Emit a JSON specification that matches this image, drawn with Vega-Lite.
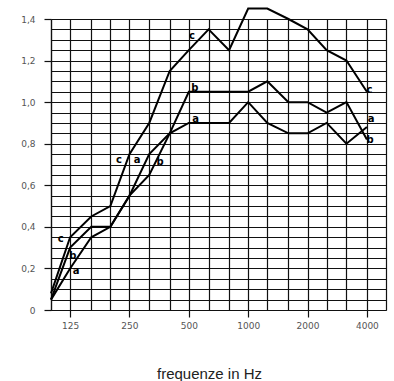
{
  "$schema": "https://vega.github.io/schema/vega-lite/v6.json",
  "autosize": {"type": "none"},
  "padding": {"left": 51, "top": 19, "right": 8, "bottom": 71},
  "width": 335,
  "height": 291,
  "background": "white",
  "config": {"view": {"stroke": null}},
  "datasets": {
    "curves": [
      {"freq": 100, "value": 0.05, "series": "a"},
      {"freq": 125, "value": 0.2, "series": "a"},
      {"freq": 160, "value": 0.35, "series": "a"},
      {"freq": 200, "value": 0.4, "series": "a"},
      {"freq": 250, "value": 0.55, "series": "a"},
      {"freq": 315, "value": 0.75, "series": "a"},
      {"freq": 400, "value": 0.85, "series": "a"},
      {"freq": 500, "value": 0.9, "series": "a"},
      {"freq": 630, "value": 0.9, "series": "a"},
      {"freq": 800, "value": 0.9, "series": "a"},
      {"freq": 1000, "value": 1.0, "series": "a"},
      {"freq": 1250, "value": 0.9, "series": "a"},
      {"freq": 1600, "value": 0.85, "series": "a"},
      {"freq": 2000, "value": 0.85, "series": "a"},
      {"freq": 2500, "value": 0.9, "series": "a"},
      {"freq": 3150, "value": 0.8, "series": "a"},
      {"freq": 4000, "value": 0.88, "series": "a"},
      {"freq": 100, "value": 0.05, "series": "b"},
      {"freq": 125, "value": 0.3, "series": "b"},
      {"freq": 160, "value": 0.4, "series": "b"},
      {"freq": 200, "value": 0.4, "series": "b"},
      {"freq": 250, "value": 0.55, "series": "b"},
      {"freq": 315, "value": 0.65, "series": "b"},
      {"freq": 400, "value": 0.85, "series": "b"},
      {"freq": 500, "value": 1.05, "series": "b"},
      {"freq": 630, "value": 1.05, "series": "b"},
      {"freq": 800, "value": 1.05, "series": "b"},
      {"freq": 1000, "value": 1.05, "series": "b"},
      {"freq": 1250, "value": 1.1, "series": "b"},
      {"freq": 1600, "value": 1.0, "series": "b"},
      {"freq": 2000, "value": 1.0, "series": "b"},
      {"freq": 2500, "value": 0.95, "series": "b"},
      {"freq": 3150, "value": 1.0, "series": "b"},
      {"freq": 4000, "value": 0.82, "series": "b"},
      {"freq": 100, "value": 0.08, "series": "c"},
      {"freq": 125, "value": 0.35, "series": "c"},
      {"freq": 160, "value": 0.45, "series": "c"},
      {"freq": 200, "value": 0.5, "series": "c"},
      {"freq": 250, "value": 0.75, "series": "c"},
      {"freq": 315, "value": 0.9, "series": "c"},
      {"freq": 400, "value": 1.15, "series": "c"},
      {"freq": 500, "value": 1.25, "series": "c"},
      {"freq": 630, "value": 1.35, "series": "c"},
      {"freq": 800, "value": 1.25, "series": "c"},
      {"freq": 1000, "value": 1.45, "series": "c"},
      {"freq": 1250, "value": 1.45, "series": "c"},
      {"freq": 1600, "value": 1.4, "series": "c"},
      {"freq": 2000, "value": 1.35, "series": "c"},
      {"freq": 2500, "value": 1.25, "series": "c"},
      {"freq": 3150, "value": 1.2, "series": "c"},
      {"freq": 4000, "value": 1.05, "series": "c"}
    ],
    "labels": [
      {"freq": 112, "value": 0.34, "label": "c"},
      {"freq": 129, "value": 0.26, "label": "b"},
      {"freq": 134, "value": 0.19, "label": "a"},
      {"freq": 221, "value": 0.72, "label": "c"},
      {"freq": 273, "value": 0.72, "label": "a"},
      {"freq": 357, "value": 0.71, "label": "b"},
      {"freq": 519, "value": 1.32, "label": "c"},
      {"freq": 537, "value": 1.07, "label": "b"},
      {"freq": 541, "value": 0.92, "label": "a"},
      {"freq": 4118, "value": 1.06, "label": "c"},
      {"freq": 4200, "value": 0.92, "label": "a"},
      {"freq": 4150, "value": 0.82, "label": "b"}
    ]
  },
  "encoding": {
    "x": {
      "field": "freq", "type": "quantitative",
      "scale": {"type": "log", "domain": [100, 5000], "nice": false},
      "axis": {
        "values": [100, 125, 160, 200, 250, 315, 400, 500, 630, 800, 1000, 1250, 1600, 2000, 2500, 3150, 4000, 5000],
        "labelExpr": "indexof([125, 250, 500, 1000, 2000, 4000], datum.value) >= 0 ? '' + datum.value : ''",
        "grid": true, "gridColor": "#111", "gridWidth": 1.2, "gridOpacity": 1,
        "domain": true, "domainColor": "#111", "domainWidth": 1.2,
        "tickColor": "#111", "tickSize": 7, "tickWidth": 1.2,
        "tickOpacity": {"condition": {"test": "indexof([125, 250, 500, 1000, 2000, 4000], datum.value) >= 0", "value": 1}, "value": 0},
        "labelFont": "DejaVu Sans", "labelFontSize": 9, "labelColor": "#555", "labelPadding": 4,
        "labelFlush": false, "labelOverlap": false,
        "title": "frequenze in Hz",
        "titleFont": "Liberation Sans", "titleFontSize": 15, "titleFontWeight": "normal", "titleColor": "#222",
        "titleX": 158, "titleY": 68, "titleAlign": "center", "titleBaseline": "alphabetic"
      }
    },
    "y": {
      "field": "value", "type": "quantitative",
      "scale": {"domain": [0, 1.4], "nice": false},
      "axis": {
        "values": [0, 0.05, 0.1, 0.15, 0.2, 0.25, 0.3, 0.35, 0.4, 0.45, 0.5, 0.55, 0.6, 0.65, 0.7, 0.75, 0.8, 0.85, 0.9, 0.95, 1.0, 1.05, 1.1, 1.15, 1.2, 1.25, 1.3, 1.35, 1.4],
        "labelExpr": "abs(datum.value*5 - round(datum.value*5)) < 0.001 ? (datum.value == 0 ? '0' : replace(format(datum.value, '.1f'), '.', ',')) : ''",
        "grid": true, "gridColor": "#111", "gridWidth": 1.2, "gridOpacity": 1,
        "domain": true, "domainColor": "#111", "domainWidth": 1.2,
        "tickColor": "#111", "tickSize": 7, "tickWidth": 1.2,
        "tickOpacity": {"condition": {"test": "abs(datum.value*5 - round(datum.value*5)) < 0.001", "value": 1}, "value": 0},
        "labelFont": "DejaVu Sans", "labelFontSize": 9, "labelColor": "#555", "labelPadding": 9,
        "labelFlush": false, "labelOverlap": false,
        "title": null
      }
    }
  },
  "layer": [
    {
      "data": {"name": "curves"},
      "mark": {"type": "line", "color": "black", "strokeWidth": 2},
      "encoding": {
        "detail": {"field": "series", "type": "nominal"}
      }
    },
    {
      "data": {"name": "labels"},
      "mark": {"type": "text", "font": "DejaVu Sans", "fontWeight": "bold", "fontSize": 10, "color": "black", "align": "center", "baseline": "middle"},
      "encoding": {
        "text": {"field": "label", "type": "nominal"}
      }
    }
  ]
}
